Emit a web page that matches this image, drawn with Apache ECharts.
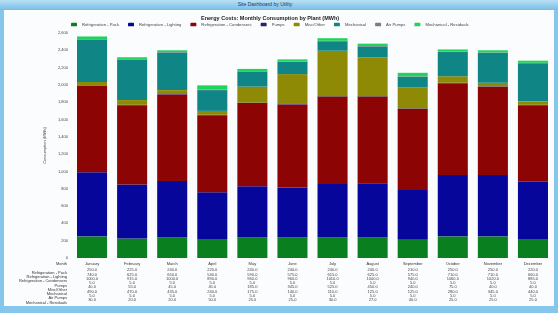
<!DOCTYPE html>
<html>
<head>
<meta charset="utf-8">
<script src="https://cdn.jsdelivr.net/npm/echarts@6/dist/echarts.min.js"></script>
<style>
  html,body{margin:0;padding:0;width:558px;height:313px;overflow:hidden;background:#86c6ea;font-family:"Liberation Sans",Arial,sans-serif;}
  #hdr{position:absolute;left:0;top:0;width:558px;height:10px;background:linear-gradient(#b9e0f5,#78bde6);}
  #hdrtxt{position:absolute;left:205px;top:1px;width:120px;text-align:center;font-size:5px;color:#1d3c66;}
  #panel{position:absolute;left:4px;top:10px;width:550px;height:296px;background:#fbfcfd;}
  #chart{position:absolute;left:0;top:0;width:558px;height:313px;}
</style>
</head>
<body>
<div id="hdr"><div id="hdrtxt">Site Dashboard by Utility</div></div>
<div id="panel"></div>
<div id="chart"></div>
<script>
const months = ['January','February','March','April','May','June','July','August','September','October','November','December'];
const seriesNames = ['Refrigeration - Pack','Refrigeration - Lighting','Refrigeration - Condensers','Pumps','Misc/Other','Mechanical','Air Pumps','Mechanical - Residuals'];
const refPack      = [250, 225, 240, 220, 240, 240, 240, 240, 210, 250, 250, 220];
const refLighting  = [740, 625, 650, 540, 590, 575, 615, 625, 575, 710, 710, 660];
const refCondense  = [1000, 915, 1000, 890, 960, 960, 1010, 1000, 940, 1060, 1020, 885];
const pumps        = [5, 5, 5, 5, 5, 5, 5, 5, 5, 5, 5, 5];
const miscOther    = [40, 55, 45, 45, 185, 345, 525, 450, 240, 75, 40, 40];
const mechanical   = [490, 470, 435, 240, 175, 140, 110, 125, 125, 280, 345, 440];
const airPumps     = [5, 5, 5, 5, 5, 5, 5, 5, 5, 5, 5, 5];
const mechResidual = [30, 20, 20, 50, 25, 25, 30, 27, 40, 25, 25, 25];
const yTicks = {min: 0, max: 2600, interval: 200};

const seriesData = [refPack, refLighting, refCondense, pumps, miscOther, mechanical, airPumps, mechResidual];
const colors = ['#0a7f1f','#06069a','#8c0404','#2b1f6e','#8f8a06','#0f8585','#7d7d7d','#1fd45a'];

const chart = echarts.init(document.getElementById('chart'), null, {renderer:'canvas'});

const fs = 4;
const rich = {
  m: {fontSize: fs, lineHeight: 7.5, color: '#333'},
  v: {fontSize: fs, lineHeight: 4.3, color: '#444'}
};

const rowLabels = ['Month'].concat(seriesNames);
const graphics = rowLabels.map((t, i) => ({
  type: 'text',
  right: 558 - 67,
  style: {text: t, fontSize: fs, fill: '#333', textAlign: 'right', textVerticalAlign: 'middle',
          x: 67, y: i === 0 ? 264 : 268.2 + i * 4.3},
  x: 0, y: 0
}));
graphics.forEach(g => { delete g.right; });

chart.setOption({
  animation: false,
  color: colors,
  title: {
    text: 'Energy Costs: Monthly Consumption by Plant (MWh)',
    left: 196, top: 10,
    textStyle: {fontSize: 5.5, fontWeight: 'bold', color: '#222'}
  },
  legend: {
    left: 66, top: 17.5,
    itemWidth: 6, itemHeight: 3.5, itemGap: 9,
    textStyle: {fontSize: 4.2, color: '#444'},
    data: seriesNames
  },
  grid: {left: 72, right: 5, top: 33, bottom: 55},
  xAxis: {
    type: 'category',
    data: months,
    axisLine: {show: false},
    axisTick: {show: false},
    axisLabel: {
      interval: 0, margin: 2.5,
      formatter: function (val, idx) {
        let s = '{m|' + val + '}';
        seriesData.forEach(arr => { s += '\n{v|' + arr[idx].toFixed(1) + '}'; });
        return s;
      },
      rich: rich
    }
  },
  yAxis: {
    type: 'value',
    min: yTicks.min, max: yTicks.max, interval: yTicks.interval,
    name: 'Consumption (MWh)',
    nameLocation: 'middle', nameGap: 15,
    nameTextStyle: {fontSize: 4, color: '#444'},
    axisLabel: {fontSize: 4, color: '#444', margin: 4},
    axisLine: {show: false},
    axisTick: {show: false},
    splitLine: {show: false}
  },
  graphic: graphics,
  series: seriesNames.map((n, i) => ({
    name: n, type: 'bar', stack: 'total',
    barCategoryGap: '25%',
    data: seriesData[i],
    itemStyle: {color: colors[i]}
  }))
});
</script>
</body>
</html>
